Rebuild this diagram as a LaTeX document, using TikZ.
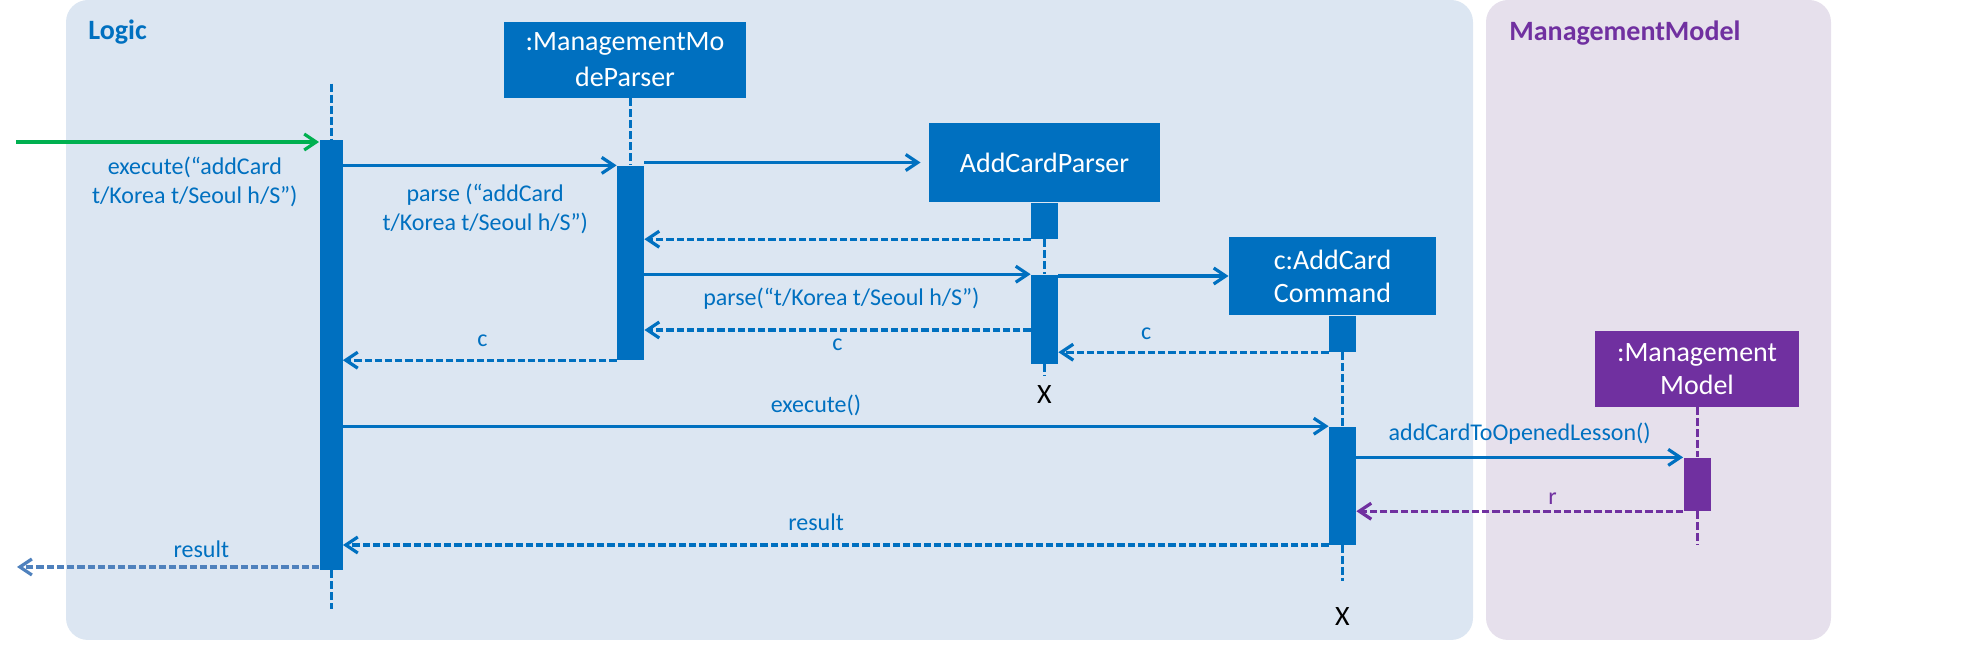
\documentclass[tikz,border=0pt]{standalone}
\usepackage{fontspec}
\setmainfont{Carlito}
\usetikzlibrary{positioning,arrows.meta}

\definecolor{logicblue}{HTML}{0070C0}
\definecolor{mmpurple}{HTML}{7030A0}
\definecolor{startgreen}{HTML}{00B050}
\definecolor{outblue}{HTML}{4F81BD}
\definecolor{logicbg}{HTML}{DCE6F2}
\definecolor{mmbg}{HTML}{E6E0EC}

\begin{document}
\begin{tikzpicture}[x=0.5pt,y=-0.5pt,
    >={Straight Barb[length=6pt,width=8pt]},
    obj/.style={fill=logicblue,text=white,inner sep=0pt,align=center,font=\fontsize{14}{16.5}\selectfont},
    bar/.style={fill=logicblue,inner sep=0pt,minimum width=13.5pt},
    msg/.style={->,draw=logicblue,line width=1.6pt},
    ret/.style={->,draw=logicblue,line width=1.6pt,dash pattern=on 3.6pt off 1.5pt},
    life/.style={draw=logicblue,line width=1.5pt,dash pattern=on 4pt off 1.5pt},
    lbl/.style={text=logicblue,inner sep=2pt,align=center,font=\fontsize{12}{14.5}\selectfont},
    xmark/.style={inner sep=0pt,font=\fontsize{14}{16}\selectfont},
    title/.style={anchor=west,inner sep=0pt,font=\bfseries\fontsize{14}{16}\selectfont}]
    \useasboundingbox (0,0) rectangle (1978,656);

    % the two panels
    \fill[logicbg,rounded corners=11pt] (66,0) rectangle (1473,640);
    \fill[mmbg,rounded corners=11pt] (1486,0) rectangle (1831,640);
    \node[title,text=logicblue] (logic) at (88,32) {Logic};
    \node[title,text=mmpurple] (mm_title) at (1509,33) {ManagementModel};

    % objects
    \node[obj,minimum width=121pt,minimum height=38pt,font=\fontsize{14}{18}\selectfont] (mmp) at (625,60) {:ManagementMo\\deParser};
    \node[obj,minimum width=115.5pt,minimum height=39.5pt] (acp) at (1044.5,162.5) {AddCardParser};
    \node[obj,minimum width=103.5pt,minimum height=39pt] (cmd) at (1332.5,276) {c:AddCard\\Command};
    \node[obj,fill=mmpurple,minimum width=102pt,minimum height=38pt] (mm) at (1697,369) {:Management\\Model};

    % activation bars
    \node[bar,minimum width=11.5pt,minimum height=215pt] (bar_1) at (331,355) {};
    \node[bar,minimum height=97pt] (bar_2) [below=33.5pt of mmp,xshift=2.75pt] {};
    \node[bar,minimum height=18pt] (acp_bar) [below=0pt of acp] {};
    \node[bar,minimum height=44.5pt] (acp_act) [below=17.5pt of acp_bar] {};
    \node[bar,minimum height=18pt] (cmd_bar) [below=0pt of cmd,xshift=5pt] {};
    \node[bar,minimum height=59pt] (cmd_act) [below=37pt of cmd_bar] {};
    \node[bar,fill=mmpurple,minimum height=26.5pt] (mm_act) [below=25pt of mm] {};

    % lifelines
    \draw[life] ([yshift=28pt]bar_1.north) -- (bar_1.north);
    \draw[life] (bar_1.south) -- ++(0,39);
    \draw[life] (mmp.south -| bar_2) -- (bar_2.north);
    \draw[life] (acp_bar.south) -- (acp_act.north);
    \draw[life] (acp_act.south) -- ++(0,12);
    \draw[life] (cmd_bar.south) -- (cmd_act.north);
    \draw[life] (cmd_act.south) -- ++(0,36);
    \draw[life,draw=mmpurple] (mm.south) -- (mm_act.north);
    \draw[life,draw=mmpurple] (mm_act.south) -- ++(0,34);

    % destroyed objects
    \node[xmark] (acp_x) [below=10.5pt of acp_act] {X};
    \node[xmark] (cmd_x) [below=31pt of cmd_act] {X};

    % messages
    \coordinate (in) at (16,142);
    \coordinate (c_lvl) at (0,330);
    \coordinate (out) at (17,567);
    \draw[msg,draw=startgreen] (in) -- node[lbl,below=4.5pt,pos=0.59] {execute(“addCard\\t/Korea t/Seoul h/S”)} (in -| bar_1.west);
    \draw[msg] (bar_1.east |- bar_2.north) -- node[lbl,below=6.5pt,pos=0.52] {parse (“addCard\\t/Korea t/Seoul h/S”)} (bar_2.north west);
    \draw[msg,shorten >=4pt] (bar_2.east |- acp.west) -- (acp.west);
    \draw[ret] (acp_bar.south west) -- (acp_bar.south west -| bar_2.east);
    \draw[msg] (bar_2.east |- acp_act.north) -- node[lbl,below=4pt,pos=0.51] {parse(“t/Korea t/Seoul h/S”)} (acp_act.north west);
    \draw[msg] (acp_act.east |- cmd.west) -- (cmd.west);
    \draw[ret] (acp_act.west |- c_lvl) -- node[lbl,below=1.5pt,pos=0.5] {c} (bar_2.east |- c_lvl);
    \draw[ret] (cmd_bar.south west) -- node[lbl,above=3.5pt,pos=0.675] {c} (cmd_bar.south west -| acp_act.east);
    \draw[ret] (bar_2.south west) -- node[lbl,above=4pt,pos=0.49] {c} (bar_2.south west -| bar_1.east);
    \draw[msg] (bar_1.east |- cmd_act.north) -- node[lbl,above=2.5pt,pos=0.48] {execute()} (cmd_act.north west);
    \draw[msg] (cmd_act.east |- mm_act.north) -- node[lbl,above=3.5pt,pos=0.5] {addCardToOpenedLesson()} (mm_act.north west);
    \draw[ret,draw=mmpurple] (mm_act.south west) -- node[lbl,text=mmpurple,above=0.5pt,pos=0.4] {r} (mm_act.south west -| cmd_act.east);
    \draw[ret] (cmd_act.south west) -- node[lbl,above=4.5pt,pos=0.52] {result} (cmd_act.south west -| bar_1.east);
    \draw[ret,draw=outblue] (bar_1.west |- out) -- node[lbl,above=2pt,pos=0.39] {result} (out);
\end{tikzpicture}
\end{document}
